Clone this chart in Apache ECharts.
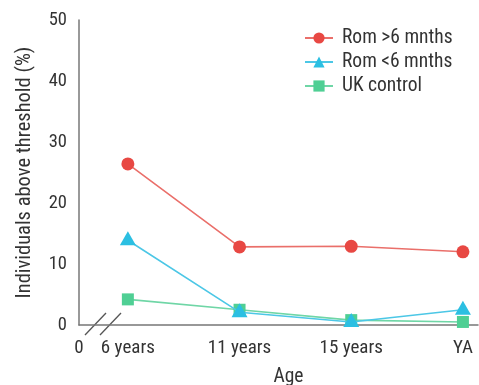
<!DOCTYPE html>
<html><head><meta charset="utf-8">
<script src="https://cdn.jsdelivr.net/npm/echarts@6/dist/echarts.min.js"></script>
<style>html,body{margin:0;padding:0;background:#fff}#c{width:479px;height:385px}</style>
</head><body><div id="c"></div>
<script>
// Data
const categories = ['6 years', '11 years', '15 years', 'YA'];
const xPositions = [1, 2, 3, 4];
const zeroLabelPos = 0.5625; // position of the "0" origin label on the broken axis
const romOver6 = [26.4, 12.8, 12.9, 12.0];
const romUnder6 = [13.9, 2.1, 0.5, 2.5];
const ukControl = [4.2, 2.5, 0.8, 0.5];
const seriesNames = ['Rom >6 mnths', 'Rom <6 mnths', 'UK control'];
const yTicks = [0, 10, 20, 30, 40, 50];

const FONT = '"Roboto Condensed", Roboto, sans-serif';
const labelMap = {};
labelMap[zeroLabelPos] = '0';
xPositions.forEach((p, i) => labelMap[p] = categories[i]);

const pairs = arr => arr.map((v, i) => [xPositions[i], v]);

const chart = echarts.init(document.getElementById('c'), null, {renderer: 'canvas'});
chart.setOption({
  animation: false,
  grid: {left: 79, right: 1, top: 20, bottom: 60, containLabel: false, outerBoundsMode: 'none'},
  legend: {
    orient: 'vertical', left: 299, top: 23, itemGap: 4,
    itemWidth: 28, itemHeight: 14,
    textStyle: {fontFamily: FONT, fontSize: 19.5, color: '#333', lineHeight: 16, padding: [0, 0, 0, 4]},
    data: seriesNames
  },
  xAxis: {
    type: 'value', min: zeroLabelPos, max: 4.135,
    name: 'Age', nameLocation: 'middle', nameGap: 42,
    nameTextStyle: {fontFamily: FONT, fontSize: 19.5, color: '#333', padding: [0, 0, 0, 20]},
    axisLine: {show: true, lineStyle: {color: '#777', width: 1.5}},
    axisTick: {show: false},
    splitLine: {show: false},
    axisLabel: {
      customValues: [zeroLabelPos].concat(xPositions),
      formatter: v => labelMap[v] !== undefined ? labelMap[v] : '',
      fontFamily: FONT, fontSize: 19, color: '#333', margin: 14,
      showMinLabel: true, showMaxLabel: true
    }
  },
  yAxis: {
    type: 'value', min: 0, max: 50, interval: 10,
    name: 'Individuals above threshold (%)', nameLocation: 'middle', nameGap: 44,
    nameTextStyle: {fontFamily: FONT, fontSize: 20.5, color: '#333'},
    axisLine: {show: true, lineStyle: {color: '#777', width: 1.5}},
    axisTick: {show: false},
    splitLine: {show: false},
    axisLabel: {
      customValues: yTicks,
      fontFamily: FONT, fontSize: 18.5, color: '#333', margin: 12
    }
  },
  series: [
    {
      name: seriesNames[0], type: 'line', data: pairs(romOver6),
      symbol: 'circle', symbolSize: 13,
      itemStyle: {color: '#e84843'},
      lineStyle: {color: '#ea6f6a', width: 1.6}, z: 3
    },
    {
      name: seriesNames[1], type: 'line', data: pairs(romUnder6),
      symbol: 'triangle', symbolSize: [16, 14], symbolOffset: [0, -2],
      itemStyle: {color: '#2bbfe2'},
      lineStyle: {color: '#4cc7e6', width: 1.6}, z: 4
    },
    {
      name: seriesNames[2], type: 'line', data: pairs(ukControl),
      symbol: 'rect', symbolSize: 12,
      itemStyle: {color: '#4fcf94'},
      lineStyle: {color: '#6fd6a6', width: 1.6}, z: 3
    }
  ],
  graphic: [
    {type: 'line', shape: {x1: 85, y1: 335, x2: 106, y2: 313}, style: {stroke: '#555', lineWidth: 1.3}},
    {type: 'line', shape: {x1: 100, y1: 335, x2: 121, y2: 313}, style: {stroke: '#555', lineWidth: 1.3}}
  ]
});
</script>
</body></html>
